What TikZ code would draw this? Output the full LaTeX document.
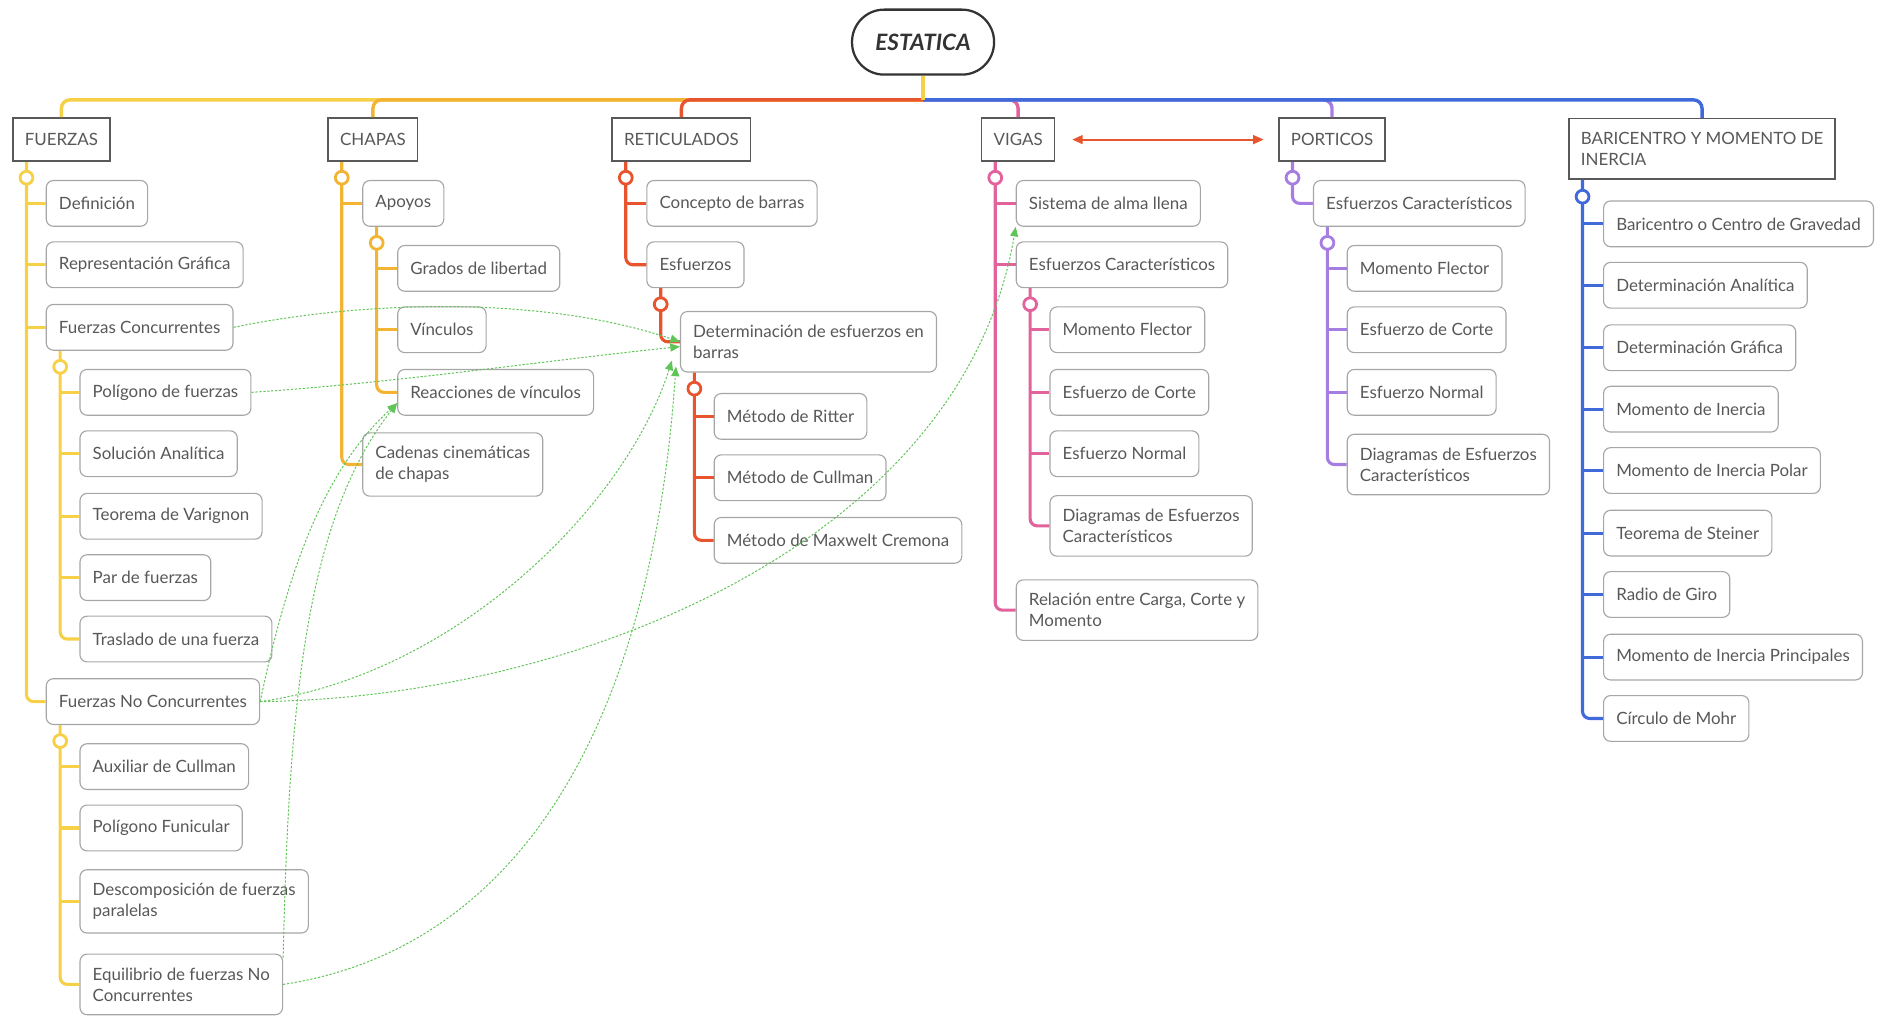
\documentclass[tikz,border=0pt]{standalone}
\usepackage{fontspec}
\setmainfont{Lato}
\usetikzlibrary{arrows.meta}

\definecolor{fcol}{RGB}{246,208,70}
\definecolor{ccol}{RGB}{242,180,50}
\definecolor{rcol}{RGB}{232,84,46}
\definecolor{vcol}{RGB}{226,98,156}
\definecolor{pcol}{RGB}{166,126,226}
\definecolor{bcol}{RGB}{64,106,218}
\definecolor{relcol}{RGB}{96,196,88}
\definecolor{txt}{RGB}{88,88,88}

\begin{document}
\begin{tikzpicture}[x=0.03cm, y=-0.03cm,
  root/.style={draw=black!80, line width=1.6pt, rounded corners=0.8cm, minimum width=3.54cm, minimum height=1.62cm, font=\fontsize{16}{18}\selectfont\bfseries\itshape, text=black!80},
  topic/.style={draw=black!65, line width=1.1pt, fill=white, anchor=west, inner xsep=8.5pt, inner ysep=8pt, minimum height=1.08cm, align=left, font=\fontsize{12}{15}\selectfont, text=txt},
  sub/.style={draw=black!35, line width=0.8pt, fill=white, rounded corners=5pt, anchor=west, inner xsep=9pt, inner ysep=9.5pt, minimum height=1.14cm, align=left, font=\fontsize{12}{15}\selectfont, text=txt},
  bus/.style={line width=2.4pt, rounded corners=6pt},
  br/.style={line width=2.2pt, rounded corners=5pt},
  knob/.style={line width=2pt, fill=white},
  rel/.style={relcol, line width=0.7pt, dash pattern=on 1.6pt off 1.2pt, -{Triangle[length=0.24cm, width=0.2cm]}}]
\useasboundingbox (0,0) rectangle (1568,844);

\node[root] (estatica) at (767,35) {ESTATICA};
\node[topic] (fuerzas) at (10,116) {FUERZAS};
\node[topic] (chapas) at (272,116) {CHAPAS};
\node[topic] (reticulados) at (508,116) {RETICULADOS};
\node[topic] (vigas) at (815,116) {VIGAS};
\node[topic] (porticos) at (1062,116) {PORTICOS};
\node[topic, anchor=north west, inner ysep=9.5pt] (baricentro) at (1303,98) {BARICENTRO Y MOMENTO DE\\INERCIA};

\coordinate (hub) at (767,83);
\draw[fcol, bus] (hub) -| (fuerzas.north);
\draw[ccol, bus] (hub) -| (chapas.north);
\draw[rcol, bus] (hub) -| (reticulados.north);
\draw[vcol, bus] (hub) -| (vigas.north);
\draw[pcol, bus] (hub) -| (porticos.north);
\draw[bcol, bus] (hub) -| (baricentro.north);
\draw[fcol, bus] (estatica.south) -- (hub);

\node[sub] (def) at (38,169) {Definición};
\node[sub] (repr) at (38,220) {Representación Gráfica};
\node[sub] (fconc) at (38,272) {Fuerzas Concurrentes};
\node[sub] (polig) at (66,326) {Polígono de fuerzas};
\node[sub] (solan) at (66,377) {Solución Analítica};
\node[sub] (varig) at (66,429) {Teorema de Varignon};
\node[sub] (par) at (66,480) {Par de fuerzas};
\node[sub] (trasl) at (66,531) {Traslado de una fuerza};
\node[sub] (fnoconc) at (38,583) {Fuerzas No Concurrentes};
\node[sub] (auxcul) at (66,637) {Auxiliar de Cullman};
\node[sub] (funic) at (66,688) {Polígono Funicular};
\node[sub] (descomp) at (66,749) {Descomposición de fuerzas\\paralelas};
\node[sub] (equil) at (66,818) {Equilibrio de fuerzas No\\Concurrentes};

\node[sub] (apoyos) at (301,169) {Apoyos};
\node[sub] (grados) at (330,223) {Grados de libertad};
\node[sub] (vinc) at (330,274) {Vínculos};
\node[sub] (reacc) at (330,326) {Reacciones de vínculos};
\node[sub] (cadenas) at (301,386) {Cadenas cinemáticas\\de chapas};

\node[sub] (concb) at (537,169) {Concepto de barras};
\node[sub] (esf) at (537,220) {Esfuerzos};
\node[sub] (detesf) at (565,284) {Determinación de esfuerzos en\\barras};
\node[sub] (ritter) at (593,346) {Método de Ritter};
\node[sub] (cullman) at (593,397) {Método de Cullman};
\node[sub] (maxwell) at (593,449) {Método de Maxwelt Cremona};

\node[sub] (alma) at (844,169) {Sistema de alma llena};
\node[sub] (vesf) at (844,220) {Esfuerzos Característicos};
\node[sub] (vflector) at (872,274) {Momento Flector};
\node[sub] (vcorte) at (872,326) {Esfuerzo de Corte};
\node[sub] (vnormal) at (872,377) {Esfuerzo Normal};
\node[sub] (vdiag) at (872,437) {Diagramas de Esfuerzos\\Característicos};
\node[sub] (relac) at (844,507) {Relación entre Carga, Corte y\\Momento};

\node[sub] (pesf) at (1091,169) {Esfuerzos Característicos};
\node[sub] (pflector) at (1119,223) {Momento Flector};
\node[sub] (pcorte) at (1119,274) {Esfuerzo de Corte};
\node[sub] (pnormal) at (1119,326) {Esfuerzo Normal};
\node[sub] (pdiag) at (1119,386) {Diagramas de Esfuerzos\\Característicos};

\node[sub] (cgrav) at (1332,186) {Baricentro o Centro de Gravedad};
\node[sub] (detan) at (1332,237) {Determinación Analítica};
\node[sub] (detgr) at (1332,289) {Determinación Gráfica};
\node[sub] (inercia) at (1332,340) {Momento de Inercia};
\node[sub] (polar) at (1332,391) {Momento de Inercia Polar};
\node[sub] (steiner) at (1332,443) {Teorema de Steiner};
\node[sub] (giro) at (1332,494) {Radio de Giro};
\node[sub] (princ) at (1332,546) {Momento de Inercia Principales};
\node[sub] (mohr) at (1332,597) {Círculo de Mohr};

\coordinate (fs) at ([xshift=0.36cm]fuerzas.south west);
\draw[fcol, br] (fs) |- (fnoconc.west);
\draw[fcol, br] (fs |- def.west) -- (def.west); \draw[fcol, br] (fs |- repr.west) -- (repr.west); \draw[fcol, br] (fs |- fconc.west) -- (fconc.west);
\draw[fcol, knob] ([yshift=-0.39cm]fs) circle (0.16cm);
\coordinate (fcs) at ([xshift=0.36cm]fconc.south west);
\draw[fcol, br] (fcs) |- (trasl.west);
\draw[fcol, br] (fcs |- polig.west) -- (polig.west); \draw[fcol, br] (fcs |- solan.west) -- (solan.west); \draw[fcol, br] (fcs |- varig.west) -- (varig.west); \draw[fcol, br] (fcs |- par.west) -- (par.west);
\draw[fcol, knob] ([yshift=-0.4cm]fcs) circle (0.16cm);
\coordinate (fns) at ([xshift=0.36cm]fnoconc.south west);
\draw[fcol, br] (fns) |- (equil.west);
\draw[fcol, br] (fns |- auxcul.west) -- (auxcul.west); \draw[fcol, br] (fns |- funic.west) -- (funic.west); \draw[fcol, br] (fns |- descomp.west) -- (descomp.west);
\draw[fcol, knob] ([yshift=-0.4cm]fns) circle (0.16cm);

\coordinate (cs) at ([xshift=0.36cm]chapas.south west);
\draw[ccol, br] (cs) |- (cadenas.west);
\draw[ccol, br] (cs |- apoyos.west) -- (apoyos.west);
\draw[ccol, knob] ([yshift=-0.39cm]cs) circle (0.16cm);
\coordinate (as) at ([xshift=0.36cm]apoyos.south west);
\draw[ccol, br] (as) |- (reacc.west);
\draw[ccol, br] (as |- grados.west) -- (grados.west); \draw[ccol, br] (as |- vinc.west) -- (vinc.west);
\draw[ccol, knob] ([yshift=-0.4cm]as) circle (0.16cm);

\coordinate (rs) at ([xshift=0.36cm]reticulados.south west);
\draw[rcol, br] (rs) |- (esf.west);
\draw[rcol, br] (rs |- concb.west) -- (concb.west);
\draw[rcol, knob] ([yshift=-0.39cm]rs) circle (0.16cm);
\coordinate (es) at ([xshift=0.36cm]esf.south west);
\draw[rcol, br] (es) |- (detesf.west);
\draw[rcol, knob] ([yshift=-0.4cm]es) circle (0.16cm);
\coordinate (ds) at ([xshift=0.36cm]detesf.south west);
\draw[rcol, br] (ds) |- (maxwell.west);
\draw[rcol, br] (ds |- ritter.west) -- (ritter.west); \draw[rcol, br] (ds |- cullman.west) -- (cullman.west);
\draw[rcol, knob] ([yshift=-0.4cm]ds) circle (0.16cm);

\coordinate (vs) at ([xshift=0.36cm]vigas.south west);
\draw[vcol, br] (vs) |- (relac.west);
\draw[vcol, br] (vs |- alma.west) -- (alma.west); \draw[vcol, br] (vs |- vesf.west) -- (vesf.west);
\draw[vcol, knob] ([yshift=-0.39cm]vs) circle (0.16cm);
\coordinate (ves) at ([xshift=0.36cm]vesf.south west);
\draw[vcol, br] (ves) |- (vdiag.west);
\draw[vcol, br] (ves |- vflector.west) -- (vflector.west); \draw[vcol, br] (ves |- vcorte.west) -- (vcorte.west); \draw[vcol, br] (ves |- vnormal.west) -- (vnormal.west);
\draw[vcol, knob] ([yshift=-0.4cm]ves) circle (0.16cm);

\coordinate (ps) at ([xshift=0.36cm]porticos.south west);
\draw[pcol, br] (ps) |- (pesf.west);
\draw[pcol, knob] ([yshift=-0.39cm]ps) circle (0.16cm);
\coordinate (pes) at ([xshift=0.36cm]pesf.south west);
\draw[pcol, br] (pes) |- (pdiag.west);
\draw[pcol, br] (pes |- pflector.west) -- (pflector.west); \draw[pcol, br] (pes |- pcorte.west) -- (pcorte.west); \draw[pcol, br] (pes |- pnormal.west) -- (pnormal.west);
\draw[pcol, knob] ([yshift=-0.4cm]pes) circle (0.16cm);

\coordinate (bs) at ([xshift=0.36cm]baricentro.south west);
\draw[bcol, br] (bs) |- (mohr.west);
\draw[bcol, br] (bs |- cgrav.west) -- (cgrav.west); \draw[bcol, br] (bs |- detan.west) -- (detan.west); \draw[bcol, br] (bs |- detgr.west) -- (detgr.west);
\draw[bcol, br] (bs |- inercia.west) -- (inercia.west); \draw[bcol, br] (bs |- polar.west) -- (polar.west); \draw[bcol, br] (bs |- steiner.west) -- (steiner.west);
\draw[bcol, br] (bs |- giro.west) -- (giro.west); \draw[bcol, br] (bs |- princ.west) -- (princ.west);
\draw[bcol, knob] ([yshift=-0.42cm]bs) circle (0.16cm);

\draw[rcol, line width=1.4pt, {Triangle[length=0.26cm,width=0.22cm]}-{Triangle[length=0.26cm,width=0.22cm]}] ([xshift=0.42cm]vigas.east) -- ([xshift=-0.36cm]porticos.west);

\draw[rel] (fconc.east) .. controls (300,250) and (450,245) .. (detesf.west);
\draw[rel] (polig.east) .. controls (330,318) and (450,300) .. ([yshift=-0.12cm]detesf.west);
\draw[rel] (fnoconc.east) .. controls (240,470) and (270,390) .. ([yshift=-0.27cm]reacc.west);
\draw[rel] ([yshift=-0.1cm]equil.north east) .. controls (240,580) and (255,430) .. ([yshift=-0.27cm]reacc.west);
\draw[rel] (fnoconc.east) .. controls (480,580) and (800,450) .. (alma.south west);
\draw[rel] (fnoconc.east) .. controls (380,560) and (520,420) .. ([xshift=-0.2cm,yshift=0.3cm]detesf.south west);
\draw[rel] (equil.east) .. controls (420,790) and (540,620) .. ([xshift=-0.1cm,yshift=0.15cm]detesf.south west);
\end{tikzpicture}
\end{document}
